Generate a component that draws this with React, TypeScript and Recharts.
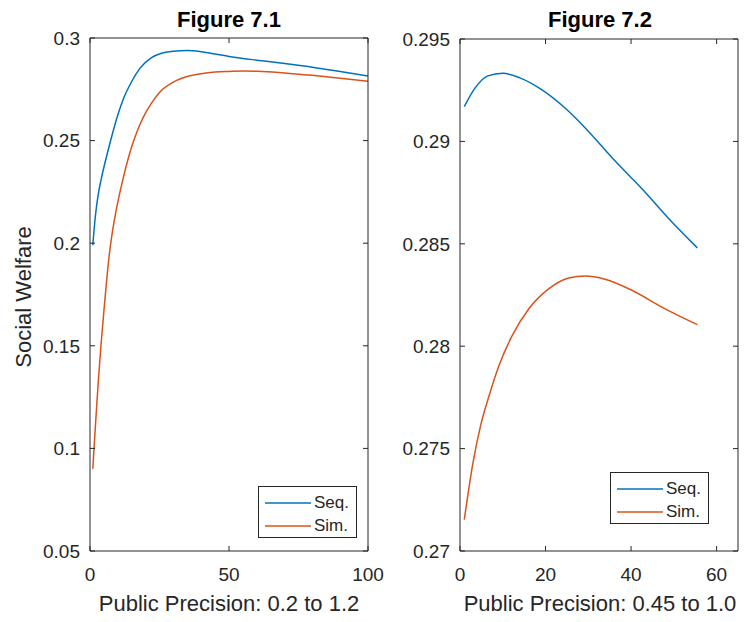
import React from 'react';
import { LineChart, Line, XAxis, YAxis } from 'recharts';

// Figure 7.1 (left)
const leftSeqX = [1, 2, 3, 4, 5, 6, 8, 10, 12, 15, 18, 22, 26, 30, 35, 40, 45, 50, 55, 60, 70, 80, 90, 100];
const leftSeqY = [0.199, 0.214, 0.224, 0.231, 0.237, 0.2425, 0.253, 0.2625, 0.2703, 0.2788, 0.2853, 0.2903, 0.2927, 0.2936, 0.2939, 0.2933, 0.2922, 0.291, 0.29, 0.2892, 0.2876, 0.2858, 0.2837, 0.2815];
const leftSimX = [1, 1.5, 2, 3, 4, 5, 6, 7, 8, 10, 12, 14, 16, 18, 20, 22, 25, 30, 35, 40, 45, 50, 55, 60, 70, 80, 90, 100];
const leftSimY = [0.09, 0.101, 0.112, 0.133, 0.151, 0.167, 0.182, 0.195, 0.205, 0.22, 0.232, 0.2425, 0.251, 0.258, 0.2635, 0.268, 0.2735, 0.2785, 0.2812, 0.2826, 0.2834, 0.2837, 0.2839, 0.2838, 0.283, 0.2818, 0.2804, 0.2789];
const leftXTicks = [0, 50, 100];
const leftYTicks = [0.05, 0.1, 0.15, 0.2, 0.25, 0.3];

// Figure 7.2 (right)
const rightSeqX = [1, 3.5, 6.5, 10, 14, 19, 24.5, 30, 36, 42.5, 48.5, 55.5];
const rightSeqY = [0.2917, 0.2926, 0.2932, 0.29333, 0.2931, 0.29254, 0.29164, 0.2905, 0.2891, 0.2877, 0.2863, 0.2848];
const rightSimX = [1, 2.9, 4.8, 6.8, 9.1, 12.2, 16.1, 20.8, 25.4, 29.3, 33.9, 40.2, 47.2, 55.5];
const rightSimY = [0.27153, 0.27415, 0.27611, 0.27758, 0.27905, 0.28052, 0.28183, 0.28281, 0.28333, 0.28343, 0.28327, 0.28273, 0.28191, 0.28105];
const rightXTicks = [0, 20, 40, 60];
const rightYTicks = [0.27, 0.275, 0.28, 0.285, 0.29, 0.295];

const seriesNames = ['Seq.', 'Sim.'];
const seriesColors = ['#0072BD', '#D95319'];

const FONT = '"Liberation Sans", Arial, Helvetica, sans-serif';
const INK = '#262626';
const TICK_LEN = 5;

const toPoints = (xs: number[], ys: number[]) => xs.map((x, i) => ({ x, y: ys[i] }));
const fmt = (v: number) => String(Number(v.toFixed(4)));

// MATLAB style ticks point inward
const bottomTick = (gap: number) => (props: any) => {
  const { x, y, payload } = props;
  const axisY = y - gap;
  return (
    <g>
      <line x1={x} x2={x} y1={axisY} y2={axisY - TICK_LEN} stroke={INK} />
      <text x={x} y={y} dy="0.71em" textAnchor="middle" fill={INK} fontSize={19} fontFamily={FONT}>
        {fmt(payload.value)}
      </text>
    </g>
  );
};

const leftTick = (gap: number) => (props: any) => {
  const { x, y, payload } = props;
  const axisX = x + gap;
  return (
    <g>
      <line x1={axisX} x2={axisX + TICK_LEN} y1={y} y2={y} stroke={INK} />
      <text x={x} y={y} dy="0.355em" textAnchor="end" fill={INK} fontSize={19} fontFamily={FONT}>
        {fmt(payload.value)}
      </text>
    </g>
  );
};

const topTick = (props: any) => {
  const { x, y } = props;
  return <line x1={x} x2={x} y1={y} y2={y + TICK_LEN} stroke={INK} />;
};

const rightTick = (props: any) => {
  const { x, y } = props;
  return <line x1={x} x2={x - TICK_LEN} y1={y} y2={y} stroke={INK} />;
};

interface PanelProps {
  left: number;
  width: number;
  margin: { top: number; right: number; bottom: number; left: number };
  xDomain: [number, number];
  yDomain: [number, number];
  xTicks: number[];
  yTicks: number[];
  series: { x: number; y: number }[][];
}

const Panel: React.FC<PanelProps> = ({ left, width, margin, xDomain, yDomain, xTicks, yTicks, series }) => (
  <div style={{ position: 'absolute', left, top: 0 }}>
    <LineChart width={width} height={622} margin={margin}>
      <XAxis
        xAxisId="b"
        dataKey="x"
        type="number"
        orientation="bottom"
        domain={xDomain}
        ticks={xTicks}
        interval={0}
        allowDataOverflow
        height={1}
        tickSize={0}
        tickMargin={17}
        tickLine={false}
        axisLine={{ stroke: INK }}
        tick={bottomTick(17)}
      />
      <XAxis
        xAxisId="t"
        dataKey="x"
        type="number"
        orientation="top"
        domain={xDomain}
        ticks={xTicks}
        interval={0}
        allowDataOverflow
        height={1}
        tickSize={0}
        tickMargin={0}
        tickLine={false}
        axisLine={{ stroke: INK }}
        tick={topTick}
      />
      <YAxis
        yAxisId="l"
        type="number"
        orientation="left"
        domain={yDomain}
        ticks={yTicks}
        interval={0}
        allowDataOverflow
        width={1}
        tickSize={0}
        tickMargin={10}
        tickLine={false}
        axisLine={{ stroke: INK }}
        tick={leftTick(10)}
      />
      <YAxis
        yAxisId="r"
        type="number"
        orientation="right"
        domain={yDomain}
        ticks={yTicks}
        interval={0}
        allowDataOverflow
        width={1}
        tickSize={0}
        tickMargin={0}
        tickLine={false}
        axisLine={{ stroke: INK }}
        tick={rightTick}
      />
      {series.map((pts, i) => (
        <Line
          key={seriesNames[i]}
          xAxisId="b"
          yAxisId="l"
          data={pts}
          dataKey="y"
          name={seriesNames[i]}
          type="monotone"
          stroke={seriesColors[i]}
          strokeWidth={1.5}
          dot={false}
          isAnimationActive={false}
        />
      ))}
    </LineChart>
  </div>
);

const LegendBox: React.FC<{ left: number; top: number }> = ({ left, top }) => (
  <div
    style={{
      position: 'absolute',
      left,
      top,
      width: 97,
      height: 50,
      border: `1px solid ${INK}`,
      background: '#fff',
      fontFamily: FONT,
      fontSize: 17,
      color: INK,
    }}
  >
    {seriesNames.map((name, i) => (
      <div
        key={name}
        style={{ position: 'absolute', left: 6, top: 5 + i * 23, height: 22, display: 'flex', alignItems: 'center' }}
      >
        <svg width={46} height={4} style={{ display: 'block' }}>
          <line x1={0} x2={46} y1={2} y2={2} stroke={seriesColors[i]} strokeWidth={1.5} />
        </svg>
        <span style={{ marginLeft: 3, lineHeight: '22px' }}>{name}</span>
      </div>
    ))}
  </div>
);

const Caption: React.FC<{ cx: number; cy: number; bold?: boolean; children: React.ReactNode }> = ({ cx, cy, bold, children }) => (
  <div
    style={{
      position: 'absolute',
      left: cx - 200,
      top: cy - 11,
      width: 400,
      height: 22,
      lineHeight: '22px',
      textAlign: 'center',
      fontFamily: FONT,
      fontSize: 22,
      fontWeight: bold ? 'bold' : 'normal',
      color: bold ? '#000' : INK,
      whiteSpace: 'nowrap',
    }}
  >
    {children}
  </div>
);

export default function App() {
  return (
    <div style={{ position: 'absolute', left: 0, top: 0, width: 744, height: 622, background: '#fff', overflow: 'hidden' }}>
      <Panel
        left={0}
        width={400}
        margin={{ top: 37, right: 31, bottom: 70, left: 89 }}
        xDomain={[0, 100]}
        yDomain={[0.05, 0.3]}
        xTicks={leftXTicks}
        yTicks={leftYTicks}
        series={[toPoints(leftSeqX, leftSeqY), toPoints(leftSimX, leftSimY)]}
      />
      <Panel
        left={380}
        width={364}
        margin={{ top: 38, right: 5, bottom: 70, left: 79 }}
        xDomain={[0, 65]}
        yDomain={[0.27, 0.295]}
        xTicks={rightXTicks}
        yTicks={rightYTicks}
        series={[toPoints(rightSeqX, rightSeqY), toPoints(rightSimX, rightSimY)]}
      />
      <LegendBox left={258} top={486} />
      <LegendBox left={610} top={472} />
      <Caption cx={229} cy={20} bold>Figure 7.1</Caption>
      <Caption cx={600} cy={20} bold>Figure 7.2</Caption>
      <Caption cx={229} cy={604}>Public Precision: 0.2 to 1.2</Caption>
      <Caption cx={600} cy={604}>Public Precision: 0.45 to 1.0</Caption>
      <div
        style={{
          position: 'absolute',
          left: 24 - 150,
          top: 297 - 11,
          width: 300,
          height: 22,
          lineHeight: '22px',
          textAlign: 'center',
          fontFamily: FONT,
          fontSize: 22,
          color: INK,
          transform: 'rotate(-90deg)',
          whiteSpace: 'nowrap',
        }}
      >
        Social Welfare
      </div>
    </div>
  );
}
